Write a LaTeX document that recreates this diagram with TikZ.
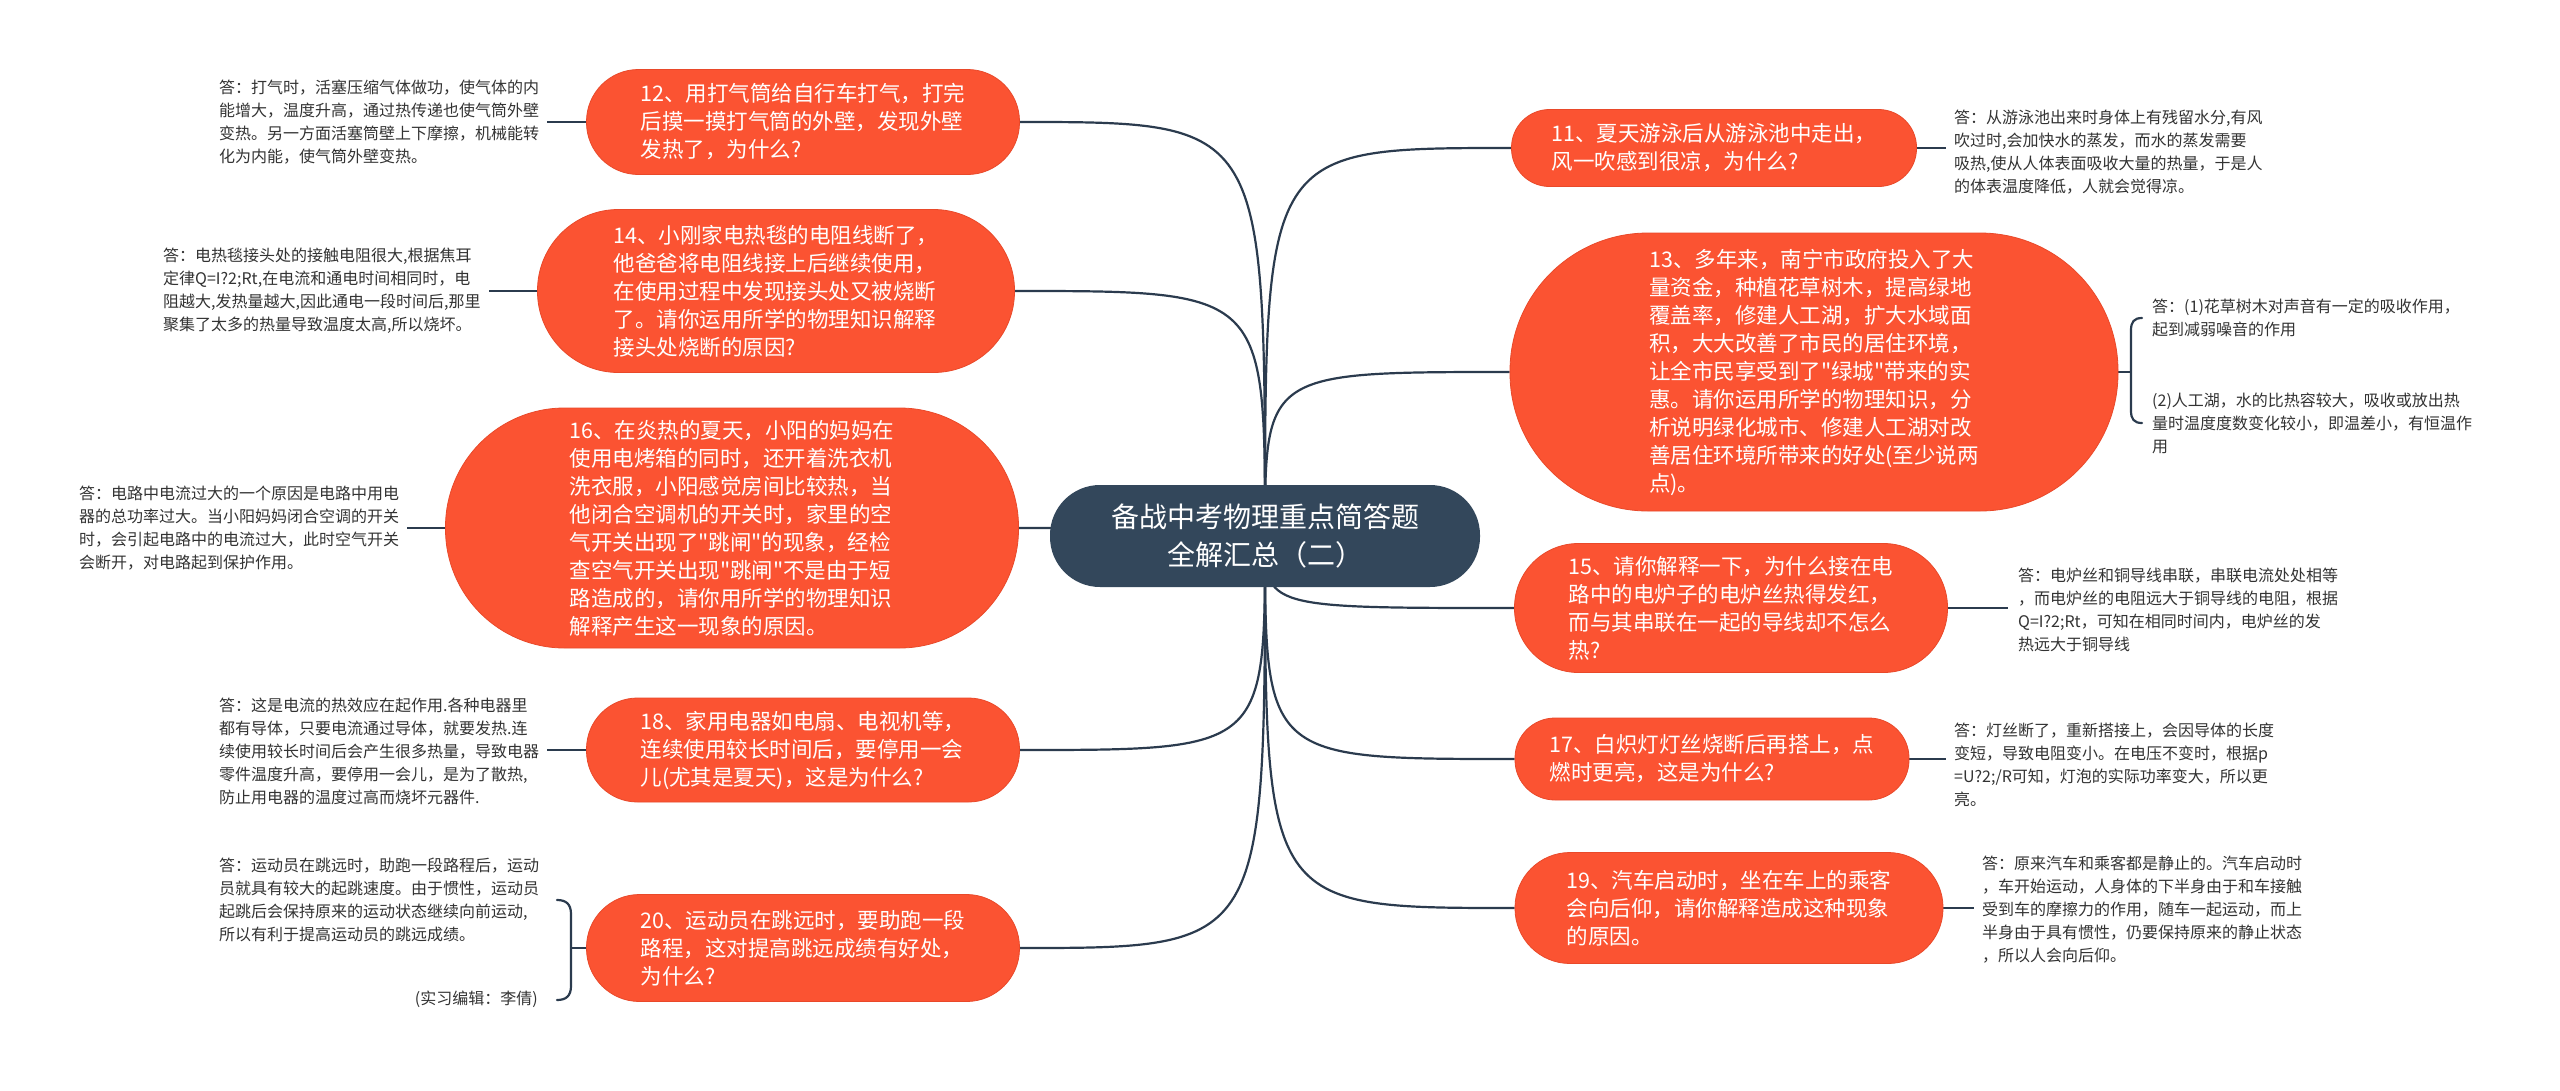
\documentclass[tikz,border=0pt]{standalone}
\usepackage{fontspec}
\setmainfont{Noto Sans CJK SC}
\newfontfamily\cjkfont{Noto Sans CJK SC}
\definecolor{orangefill}{HTML}{FB5332}
\definecolor{orangeedge}{HTML}{E9492A}
\definecolor{darknode}{HTML}{33475B}
\definecolor{linecol}{HTML}{2B3B4E}
\definecolor{anstext}{HTML}{333333}
\pgfdeclarelayer{bg}
\pgfsetlayers{bg,main}
\tikzset{
  qbox/.style n args={3}{draw=orangeedge, line width=0.8pt, fill=orangefill, text=white,
    inner sep=0pt, minimum width=#1, minimum height=#2, rounded corners=#3,
    align=left, font=\cjkfont\fontsize{21.5}{28}\selectfont},
  centerbox/.style={fill=darknode, text=white, inner sep=0pt, minimum width=430pt,
    minimum height=102pt, rounded corners=50pt, align=center, font=\cjkfont\fontsize{28}{38}\selectfont},
  ans/.style={inner sep=0pt, anchor=west, align=left, text=anstext, font=\cjkfont\fontsize{16}{23}\selectfont},
  conn/.style={draw=linecol, line width=2.2pt},
  bracketline/.style={draw=linecol, line width=2.2pt, line cap=round},
}
\begin{document}
\begin{tikzpicture}[x=1pt,y=-1pt]
\useasboundingbox (0,0) rectangle (2560,1090);
\begin{pgfonlayer}{bg}
\fill[white] (0,0) rectangle (2560,1090);
\end{pgfonlayer}

% central
\node[centerbox] (c) at (1265,536) {备战中考物理重点简答题\\全解汇总（二）};

% left questions
\node[qbox={433pt}{105pt}{52pt}] (n12) at (803,122) {12、用打气筒给自行车打气，打完\\后摸一摸打气筒的外壁，发现外壁\\发热了，为什么?};
\node[qbox={477pt}{163pt}{81pt}] (n14) at (776,291) {14、小刚家电热毯的电阻线断了，\\他爸爸将电阻线接上后继续使用，\\在使用过程中发现接头处又被烧断\\了。请你运用所学的物理知识解释\\接头处烧断的原因?};
\node[qbox={573pt}{240pt}{119pt}] (n16) at (732,528) {16、在炎热的夏天，小阳的妈妈在\\使用电烤箱的同时，还开着洗衣机\\洗衣服，小阳感觉房间比较热，当\\他闭合空调机的开关时，家里的空\\气开关出现了"跳闸"的现象，经检\\查空气开关出现"跳闸"不是由于短\\路造成的，请你用所学的物理知识\\解释产生这一现象的原因。};
\node[qbox={433pt}{104pt}{51pt}] (n18) at (803,750) {18、家用电器如电扇、电视机等，\\连续使用较长时间后，要停用一会\\儿(尤其是夏天)，这是为什么?};
\node[qbox={433pt}{107pt}{53pt}] (n20) at (803,948) {20、运动员在跳远时，要助跑一段\\路程，这对提高跳远成绩有好处，\\为什么?};

% right questions
\node[qbox={405pt}{77pt}{38pt}] (n11) at (1714,148) {11、夏天游泳后从游泳池中走出，\\风一吹感到很凉，为什么?};
\node[qbox={608pt}{278pt}{138pt}] (n13) at (1814,372) {13、多年来，南宁市政府投入了大\\量资金，种植花草树木，提高绿地\\覆盖率，修建人工湖，扩大水域面\\积，大大改善了市民的居住环境，\\让全市民享受到了"绿城"带来的实\\惠。请你运用所学的物理知识，分\\析说明绿化城市、修建人工湖对改\\善居住环境所带来的好处(至少说两\\点)。};
\node[qbox={433pt}{129pt}{64pt}] (n15) at (1731,608) {15、请你解释一下，为什么接在电\\路中的电炉子的电炉丝热得发红，\\而与其串联在一起的导线却不怎么\\热?};
\node[qbox={394pt}{82pt}{40pt}] (n17) at (1712,759) {17、白炽灯灯丝烧断后再搭上，点\\燃时更亮，这是为什么?};
\node[qbox={428pt}{111pt}{55pt}] (n19) at (1729,908) {19、汽车启动时，坐在车上的乘客\\会向后仰，请你解释造成这种现象\\的原因。};

% left answers
\node[ans] (a12) at (219,122) {答：打气时，活塞压缩气体做功，使气体的内\\能增大，温度升高，通过热传递也使气筒外壁\\变热。另一方面活塞筒壁上下摩擦，机械能转\\化为内能，使气筒外壁变热。};
\node[ans] (a14) at (163,291) {答：电热毯接头处的接触电阻很大,根据焦耳\\定律Q=I?2;Rt,在电流和通电时间相同时，电\\阻越大,发热量越大,因此通电一段时间后,那里\\聚集了太多的热量导致温度太高,所以烧坏。};
\node[ans] (a16) at (79,528) {答：电路中电流过大的一个原因是电路中用电\\器的总功率过大。当小阳妈妈闭合空调的开关\\时，会引起电路中的电流过大，此时空气开关\\会断开，对电路起到保护作用。};
\node[ans] (a18) at (219,751) {答：这是电流的热效应在起作用.各种电器里\\都有导体，只要电流通过导体，就要发热.连\\续使用较长时间后会产生很多热量，导致电器\\零件温度升高，要停用一会儿，是为了散热,\\防止用电器的温度过高而烧坏元器件.};
\node[ans] (a20) at (219,900) {答：运动员在跳远时，助跑一段路程后，运动\\员就具有较大的起跳速度。由于惯性，运动员\\起跳后会保持原来的运动状态继续向前运动,\\所以有利于提高运动员的跳远成绩。};
\node[ans, anchor=east] (aed) at (538,999) {(实习编辑：李倩)};

% right answers
\node[ans] (a11) at (1954,152) {答：从游泳池出来时身体上有残留水分,有风\\吹过时,会加快水的蒸发，而水的蒸发需要\\吸热,使从人体表面吸收大量的热量，于是人\\的体表温度降低，人就会觉得凉。};
\node[ans] (a13a) at (2152,318) {答：(1)花草树木对声音有一定的吸收作用，\\起到减弱噪音的作用};
\node[ans] (a13b) at (2152,423) {(2)人工湖，水的比热容较大，吸收或放出热\\量时温度度数变化较小，即温差小，有恒温作\\用};
\node[ans] (a15) at (2018,610) {答：电炉丝和铜导线串联，串联电流处处相等\\，而电炉丝的电阻远大于铜导线的电阻，根据\\Q=I?2;Rt，可知在相同时间内，电炉丝的发\\热远大于铜导线};
\node[ans] (a17) at (1954,765) {答：灯丝断了，重新搭接上，会因导体的长度\\变短，导致电阻变小。在电压不变时，根据p\\=U?2;/R可知，灯泡的实际功率变大，所以更\\亮。};
\node[ans] (a19) at (1982,910) {答：原来汽车和乘客都是静止的。汽车启动时\\，车开始运动，人身体的下半身由于和车接触\\受到车的摩擦力的作用，随车一起运动，而上\\半身由于具有惯性，仍要保持原来的静止状态\\，所以人会向后仰。};

% bracket coordinates
\coordinate (b20) at (571,948);
\coordinate (b13) at (2131,372);

\begin{pgfonlayer}{bg}
% main curves
\draw[conn] (c.center) .. controls (c.center |- n12.east) .. (n12.east);
\draw[conn] (c.center) .. controls (c.center |- n14.east) .. (n14.east);
\draw[conn] (c.center) .. controls (c.center |- n16.east) .. (n16.east);
\draw[conn] (c.center) .. controls (c.center |- n18.east) .. (n18.east);
\draw[conn] (c.center) .. controls (c.center |- n20.east) .. (n20.east);
\draw[conn] (c.center) .. controls (c.center |- n11.west) .. (n11.west);
\draw[conn] (c.center) .. controls (c.center |- n13.west) .. (n13.west);
\draw[conn] (c.center) .. controls (c.center |- n15.west) .. (n15.west);
\draw[conn] (c.center) .. controls (c.center |- n17.west) .. (n17.west);
\draw[conn] (c.center) .. controls (c.center |- n19.west) .. (n19.west);
% answer connectors
\draw[conn, shorten >=8pt] (n12.west) -- (n12.west -| a12.east);
\draw[conn, shorten >=8pt] (n14.west) -- (n14.west -| a14.east);
\draw[conn, shorten >=8pt] (n16.west) -- (n16.west -| a16.east);
\draw[conn, shorten >=8pt] (n18.west) -- (n18.west -| a18.east);
\draw[conn] (n20.west) -- (b20);
\draw[conn, shorten >=8pt] (n11.east) -- (n11.east -| a11.west);
\draw[conn] (n13.east) -- (b13);
\draw[conn, shorten >=10pt] (n15.east) -- (n15.east -| a15.west);
\draw[conn, shorten >=8pt] (n17.east) -- (n17.east -| a17.west);
\draw[conn, shorten >=8pt] (n19.east) -- (n19.east -| a19.west);
% brackets
\draw[bracketline] (557,900) .. controls (566,900) and (571,904) .. (571,914) -- (571,986) .. controls (571,996) and (566,1000) .. (557,1000);
\draw[bracketline] (2142,318) .. controls (2134,318) and (2131,322) .. (2131,330) -- (2131,411) .. controls (2131,419) and (2134,423) .. (2142,423);
\end{pgfonlayer}
\end{tikzpicture}
\end{document}
